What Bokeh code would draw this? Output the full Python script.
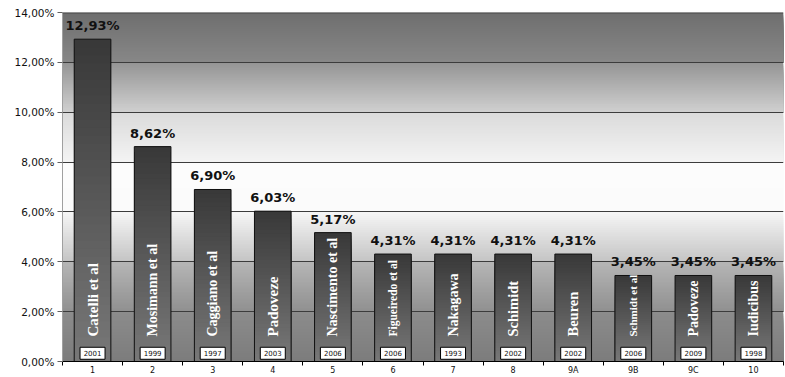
import numpy as np
from bokeh.plotting import figure
from bokeh.models import ColumnDataSource, FixedTicker, Range1d, Span
from bokeh.core.properties import value
from bokeh.embed import file_html
from bokeh.resources import INLINE

# ---- data ----
categories = ["1", "2", "3", "4", "5", "6", "7", "8", "9A", "9B", "9C", "10"]
values = [12.93, 8.62, 6.90, 6.03, 5.17, 4.31, 4.31, 4.31, 4.31, 3.45, 3.45, 3.45]
authors = ["Catelli et al", "Mosimann et al", "Caggiano et al", "Padoveze",
           "Nascimento et al", "Figueiredo et al", "Nakagawa", "Schimidt",
           "Beuren", "Schmidt et al", "Padoveze", "Iudicibus"]
years = ["2001", "1999", "1997", "2003", "2006", "2006", "1993", "2002",
         "2002", "2006", "2009", "1998"]
y_ticks = [0, 2, 4, 6, 8, 10, 12, 14]
y_tick_labels = ["0,00%", "2,00%", "4,00%", "6,00%", "8,00%", "10,00%", "12,00%", "14,00%"]

# ---- style ----
name_sizes = ["15px", "14px", "14px", "15px", "14px", "11.5px", "14px", "14.5px",
              "14.5px", "11px", "14px", "14px"]

n = len(categories)
xc = [i + 0.5 for i in range(n)]
labels = [f"{v:.2f}".replace(".", ",") + "%" for v in values]

p = figure(width=785, height=377, x_range=Range1d(0, n), y_range=Range1d(0, 14),
           output_backend="svg", toolbar_location=None,
           min_border_left=62, min_border_right=2, min_border_top=12, min_border_bottom=0)
p.outline_line_color = None
p.background_fill_color = "white"
p.border_fill_color = "white"

# background banded gradient (layered strips: each covers down to band bottom -> no seams)
bands = [(14, 12, 0x6e, 0x88), (12, 10, 0x94, 0xd0), (10, 8, 0xda, 0xf4),
         (8, 6, 0xfc, 0xfb), (6, 4, 0xf6, 0xc4), (4, 2, 0xb6, 0x90), (2, 0, 0x8c, 0x7c)]
bb, bt, bc = [], [], []
steps = 25
for top, bot, c1, c2 in bands:
    h = (top - bot) / steps
    for k in range(steps):
        t = top - k * h
        f = (k + 0.5) / steps
        g = int(round(c1 + (c2 - c1) * f))
        bt.append(t)
        bb.append(bot)
        bc.append("#%02x%02x%02x" % (g, g, g))
bg = p.quad(left=0, right=n, bottom=bb, top=bt, fill_color=bc, line_color=None)
bg.level = "image"

# grid
p.ygrid.ticker = FixedTicker(ticks=y_ticks)
p.ygrid.grid_line_color = "#3c3c3c"
p.ygrid.grid_line_width = 1
p.xgrid.grid_line_color = None
p.add_layout(Span(location=14, dimension="width", line_color="#4a4a4a", line_width=2))

# bars with vertical gradient (layered segments down to zero)
segs = 40
sx, st, sc = [], [], []
for x, v in zip(xc, values):
    h = v / segs
    for k in range(segs):
        f = (k + 0.5) / segs
        g = int(round(0x38 + (0x78 - 0x38) * f))
        sx.append(x)
        st.append(v - k * h)
        sc.append("#%02x%02x%02x" % (g, g, g))
p.vbar(x=sx, bottom=0, top=st, width=0.61, fill_color=sc, line_color=None)

src = ColumnDataSource(dict(x=xc, v=values, lab=labels, auth=authors, yr=years,
                            ns=name_sizes, zero=[0] * n, ybox=[0.33] * n))
p.vbar(x="x", top="v", width=0.61, source=src, fill_color=None,
       line_color="#111111", line_width=1)

# value labels
p.text(x="x", y="v", text="lab", source=src, y_offset=-6,
       text_align="center", text_baseline="bottom",
       text_font=value("DejaVu Sans"), text_font_style="bold",
       text_font_size="13px", text_color="#111111")

# author names (vertical, white)
p.text(x="x", y="zero", text="auth", source=src, y_offset=-25, angle=np.pi / 2,
       text_align="left", text_baseline="middle",
       text_font=value("Liberation Serif"), text_font_style="bold",
       text_font_size="ns", text_color="white")

# year boxes
p.rect(x="x", y="ybox", width=25, height=12, width_units="screen", height_units="screen",
       source=src, fill_color="white", line_color="black", line_width=1)
p.text(x="x", y="ybox", text="yr", source=src, text_align="center", text_baseline="middle",
       text_font=value("DejaVu Sans"), text_font_size="7px", text_color="#111111")

# axes
p.xaxis.ticker = FixedTicker(ticks=xc, minor_ticks=list(range(n + 1)))
p.xaxis.major_label_overrides = {x: c for x, c in zip(xc, categories)}
p.xaxis.major_label_text_font = "DejaVu Sans"
p.xaxis.major_label_text_font_size = "8px"
p.xaxis.major_label_text_color = "#111111"
p.xaxis.major_label_standoff = 0
p.xaxis.major_tick_out = 0
p.xaxis.major_tick_in = 0
p.xaxis.major_tick_line_color = None
p.xaxis.minor_tick_out = 4
p.xaxis.minor_tick_in = 0
p.xaxis.minor_tick_line_color = "black"
p.xaxis.axis_line_color = "black"

p.yaxis.ticker = FixedTicker(ticks=y_ticks)
p.yaxis.major_label_overrides = {t: l for t, l in zip(y_ticks, y_tick_labels)}
p.yaxis.axis_line_color = "#a0a0a0"
p.yaxis.major_tick_line_color = "#606060"
p.yaxis.major_tick_out = 5
p.yaxis.major_tick_in = 0
p.yaxis.minor_tick_line_color = None
p.yaxis.major_label_text_font = "DejaVu Sans"
p.yaxis.major_label_text_font_size = "10.5px"
p.yaxis.major_label_text_color = "#111111"
p.yaxis.major_label_standoff = 3

open("out.html", "w").write(file_html(p, INLINE))
